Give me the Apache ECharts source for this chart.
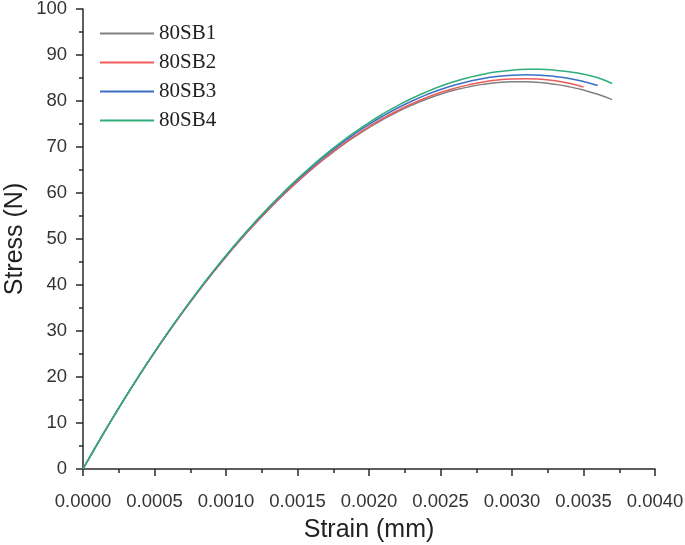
<!DOCTYPE html>
<html>
<head>
<meta charset="utf-8">
<script src="https://cdn.jsdelivr.net/npm/echarts@6/dist/echarts.min.js"></script>
<style>html,body{margin:0;padding:0;background:#fff;}#c{width:685px;height:545px;}</style>
</head>
<body>
<div id="c"></div>
<script>
// strain values (0 .. 0.0037 step 0.0001)
const strain = [0,0.0001,0.0002,0.0003,0.0004,0.0005,0.0006,0.0007,0.0008,0.0009,0.0010,0.0011,0.0012,0.0013,0.0014,0.0015,0.0016,0.0017,0.0018,0.0019,0.0020,0.0021,0.0022,0.0023,0.0024,0.0025,0.0026,0.0027,0.0028,0.0029,0.0030,0.0031,0.0032,0.0033,0.0034,0.0035,0.0036,0.0037];
const seriesNames = ['80SB1','80SB2','80SB3','80SB4'];
const sb1 = [0,5.43,10.68,15.75,20.64,25.34,29.87,34.21,38.38,42.36,46.16,49.78,53.22,56.48,59.56,62.45,65.17,67.70,70.06,72.23,74.22,76.03,77.66,79.11,80.38,81.46,82.37,83.09,83.63,84.00,84.18,84.18,84.00,83.63,83.09,82.37,81.46,80.30];
const sb2 = [0,5.42,10.66,15.72,20.61,25.31,29.84,34.19,38.35,42.34,46.15,49.78,53.24,56.51,59.61,62.52,65.26,67.82,70.20,72.40,74.42,76.26,77.92,79.41,80.72,81.84,82.79,83.56,84.15,84.56,84.79,84.85,84.72,84.42,83.85,83.05];
const sb3 = [0,5.44,10.70,15.78,20.69,25.42,29.96,34.33,38.52,42.54,46.37,50.03,53.51,56.81,59.93,62.87,65.63,68.22,70.63,72.86,74.91,76.78,78.48,79.99,81.33,82.49,83.47,84.27,84.90,85.34,85.61,85.70,85.61,85.34,84.90,84.22,83.35];
const sb4 = [0,5.43,10.68,15.76,20.67,25.40,29.95,34.33,38.53,42.56,46.42,50.09,53.60,56.93,60.08,63.06,65.86,68.49,70.94,73.22,75.32,77.24,79.00,80.57,81.97,83.20,84.25,85.13,85.83,86.35,86.70,86.88,86.88,86.70,86.35,85.83,85.05,83.80];
const colors = ['#808080','#f05a5a','#3a6fc4','#2fae7a'];

const all = [sb1, sb2, sb3, sb4];
const chart = echarts.init(document.getElementById('c'), null, {renderer: 'canvas'});
const axisColor = '#2a2a2a';
chart.setOption({
  animation: false,
  backgroundColor: '#fff',
  grid: {left: 83, right: 30, top: 9, bottom: 76, containLabel: false, outerBoundsMode: 'none'},
  legend: {
    orient: 'vertical', left: 100, top: 23, padding: 0,
    itemWidth: 54, itemHeight: 2, itemGap: 8,
    icon: 'rect',
    textStyle: {fontFamily: 'Liberation Serif', fontSize: 21, lineHeight: 20, color: '#222'},
    data: seriesNames
  },
  xAxis: {
    type: 'value', min: 0, max: 0.004, interval: 0.0005,
    name: 'Strain (mm)', nameLocation: 'middle', nameGap: 49, nameMoveOverlap: false,
    nameTextStyle: {fontFamily: 'Liberation Sans', fontSize: 25, color: '#222'},
    axisLine: {show: true, lineStyle: {color: axisColor, width: 1.5}},
    axisTick: {show: true, inside: false, length: 7, lineStyle: {color: axisColor, width: 1.5}},
    minorTick: {show: true, splitNumber: 2, length: 4, lineStyle: {color: axisColor, width: 1.5}},
    splitLine: {show: false},
    axisLabel: {fontFamily: 'Liberation Sans', fontSize: 18.5, color: '#333', margin: 23,
      formatter: v => v.toFixed(4)}
  },
  yAxis: {
    type: 'value', min: 0, max: 100, interval: 10,
    name: 'Stress (N)', nameLocation: 'middle', nameGap: 55, nameMoveOverlap: false,
    nameTextStyle: {fontFamily: 'Liberation Sans', fontSize: 25, color: '#222'},
    axisLine: {show: true, lineStyle: {color: axisColor, width: 1.5}},
    axisTick: {show: true, inside: false, length: 7, lineStyle: {color: axisColor, width: 1.5}},
    minorTick: {show: true, splitNumber: 2, length: 4, lineStyle: {color: axisColor, width: 1.5}},
    splitLine: {show: false},
    axisLabel: {fontFamily: 'Liberation Sans', fontSize: 18.5, color: '#333', margin: 16}
  },
  series: seriesNames.map((n, i) => ({
    name: n, type: 'line', symbol: 'none', smooth: true,
    color: colors[i],
    lineStyle: {width: 1.5, color: colors[i]},
    data: all[i].map((v, k) => [strain[k], v])
  }))
});
</script>
</body>
</html>
